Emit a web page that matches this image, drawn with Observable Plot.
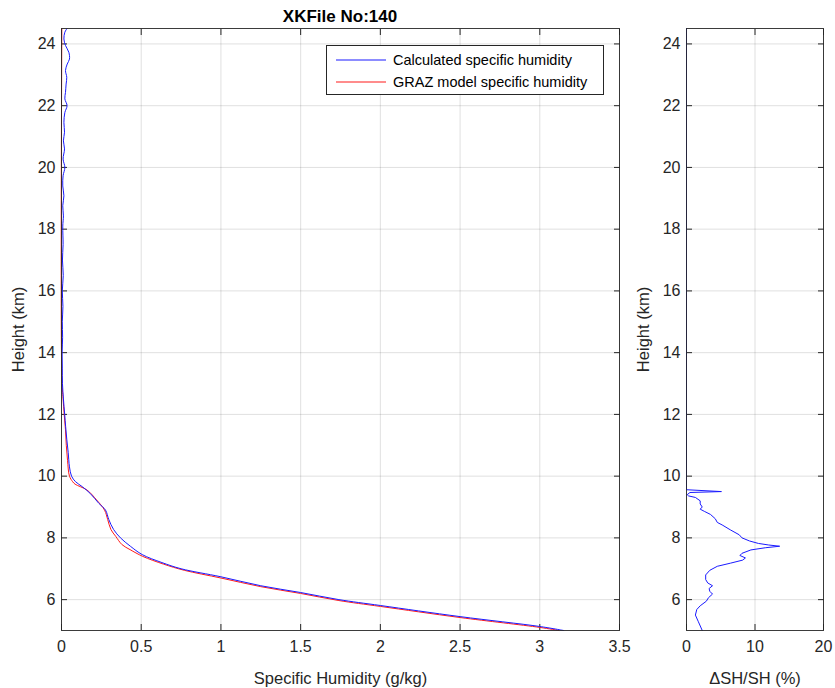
<!DOCTYPE html>
<html><head><meta charset="utf-8">
<script src="https://cdn.jsdelivr.net/npm/d3@7"></script>
<script src="https://cdn.jsdelivr.net/npm/@observablehq/plot@0.6"></script>
<style>
body{margin:0;background:#fff;font-family:"Liberation Sans",Arial,Helvetica,sans-serif;}
#wrap{position:relative;width:835px;height:688px;overflow:hidden;}
#left{position:absolute;left:0;top:0;}
#right{position:absolute;left:630px;top:0;}
#title{position:absolute;left:61px;width:558px;top:8px;text-align:center;font-weight:bold;font-size:17px;line-height:17px;color:#000;}
#legend{position:absolute;left:326px;top:45px;width:276px;height:48px;background:#fff;border:1px solid #262626;font-size:14.5px;color:#000;}
.row{position:absolute;left:0;height:20px;width:100%;}
.sw{position:absolute;left:9px;top:0px;}
.lt{position:absolute;left:66px;top:1px;line-height:18px;white-space:nowrap;}
#wrap svg g[aria-label$="tick label"]{font-size:16px;}
#wrap svg g[aria-label$="axis label"]{font-size:16.5px;}
</style>
</head><body>
<div id="wrap">
  <div id="left"></div>
  <div id="right"></div>
  <div id="title"></div>
  <div id="legend"></div>
</div>
<script>
// ---- data ----
const titleText = "XKFile No:140";
const seriesNames = ["Calculated specific humidity", "GRAZ model specific humidity"];
const seriesColors = ["#1a1aff", "#ff1a1a"];

const calcHeight = [24.5,24.38,24.16,23.95,23.73,23.51,23.35,23.14,22.92,22.7,22.43,22.22,22.0,21.78,21.46,21.14,20.86,20.6,20.27,20.0,19.73,19.4,19.08,18.76,18.43,18.1,17.5,17.0,16.5,16.0,15.5,15.0,14.5,14.0,13.5,13.0,12.5,12.0,11.6,11.2,10.77,10.3,10.0,9.82,9.66,9.44,9.12,8.9,8.59,8.27,8.0,7.73,7.46,7.2,7.0,6.74,6.45,6.23,6.0,5.81,5.45,5.13,5.0];
const calcSH = [0.035,0.021,0.015,0.025,0.046,0.05,0.036,0.025,0.033,0.029,0.025,0.021,0.035,0.021,0.015,0.019,0.012,0.019,0.01,0.021,0.01,0.008,0.015,0.008,0.012,0.008,0.01,0.006,0.011,0.005,0.009,0.005,0.007,0.004,0.005,0.006,0.012,0.02,0.026,0.033,0.042,0.05,0.063,0.088,0.13,0.18,0.234,0.276,0.297,0.327,0.37,0.432,0.506,0.63,0.75,1.0,1.25,1.5,1.74,2.0,2.5,3.0,3.15];

const grazHeight = [24.5,13.2,12.5,12.0,11.5,11.0,10.5,10.0,9.82,9.74,9.55,9.23,8.9,8.59,8.27,8.05,7.78,7.62,7.4,7.15,6.95,6.7,6.42,6.2,5.97,5.78,5.42,5.1,5.0];
const grazSH = [0.002,0.002,0.01,0.017,0.025,0.03,0.038,0.05,0.07,0.085,0.16,0.22,0.27,0.29,0.31,0.34,0.38,0.43,0.51,0.64,0.77,1.0,1.25,1.5,1.74,2.0,2.5,3.0,3.12];

const deltaHeight = [24.5,9.56,9.5,9.47,9.4,9.36,9.31,9.2,9.1,9.0,8.93,8.86,8.76,8.62,8.5,8.42,8.26,8.1,8.0,7.9,7.82,7.77,7.73,7.68,7.61,7.5,7.43,7.35,7.28,7.18,7.08,6.95,6.8,6.65,6.54,6.45,6.36,6.27,6.18,6.06,5.95,5.8,5.68,5.5,5.3,5.0];
const deltaPct = [0,0,5.1,0.5,0.1,0.3,1.3,2.0,2.0,2.3,2.0,2.6,3.5,4.2,4.5,5.2,6.4,7.7,8.1,9.2,10.5,12.0,13.6,11.5,9.4,8.1,7.8,8.6,8.2,6.4,4.5,3.4,2.8,2.8,3.1,3.8,3.3,3.4,3.8,3.2,2.9,2.0,1.5,1.3,1.7,2.3];

const xTicksLeft = [0,0.5,1,1.5,2,2.5,3,3.5];
const xTicksRight = [0,10,20];
const yTicks = [6,8,10,12,14,16,18,20,22,24];
const xLabelLeft = "Specific Humidity (g/kg)";
const xLabelRight = "\u0394SH/SH (%)";
const yLabel = "Height (km)";

// ---- build tables ----
const calc = calcHeight.map((h,i) => ({h, v: calcSH[i]}));
const graz = grazHeight.map((h,i) => ({h, v: grazSH[i]}));
const delta = deltaHeight.map((h,i) => ({h, v: deltaPct[i]}));

const axisColor = "#262626";
const style = {fontFamily: '"Liberation Sans", Arial, Helvetica, sans-serif', fontSize: "15px", color: axisColor, background: "transparent", overflow: "visible"};
const gridOpts = {stroke: axisColor, strokeOpacity: 0.14};
const fmt = d => String(d);

function panel({width, marginLeft, marginRight, xDomain, xTicks, xLabel, lines}) {
  return Plot.plot({
    width, height: 688,
    marginLeft, marginRight, marginTop: 28, marginBottom: 58,
    style,
    x: {domain: xDomain},
    y: {domain: [5, 24.5]},
    marks: [
      Plot.gridX(xTicks, gridOpts),
      Plot.gridY(yTicks, gridOpts),
      Plot.axisX(xTicks, {anchor: "bottom", tickSize: -6, tickPadding: 16, tickFormat: fmt, label: xLabel, labelAnchor: "center", labelArrow: "none", labelOffset: 53}),
      Plot.axisX(xTicks, {anchor: "top", tickSize: -6, tickFormat: () => "", label: null}),
      Plot.axisY(yTicks, {anchor: "left", tickSize: -6, tickPadding: 12, tickFormat: fmt, label: yLabel, labelAnchor: "center", labelArrow: "none", labelOffset: 49}),
      Plot.axisY(yTicks, {anchor: "right", tickSize: -6, tickFormat: () => "", label: null}),
      ...lines,
      Plot.frame({stroke: axisColor, strokeOpacity: 0.9})
    ]
  });
}

const left = panel({
  width: 630, marginLeft: 61, marginRight: 11,
  xDomain: [0, 3.5], xTicks: xTicksLeft, xLabel: xLabelLeft,
  lines: [
    Plot.line(graz, {x: "v", y: "h", stroke: seriesColors[1], strokeWidth: 1, curve: "catmull-rom"}),
    Plot.line(calc, {x: "v", y: "h", stroke: seriesColors[0], strokeWidth: 1, curve: "catmull-rom"})
  ]
});
const right = panel({
  width: 205, marginLeft: 56, marginRight: 12,
  xDomain: [0, 20], xTicks: xTicksRight, xLabel: xLabelRight,
  lines: [
    Plot.line(delta, {x: "v", y: "h", stroke: seriesColors[0], strokeWidth: 1})
  ]
});
document.getElementById("left").appendChild(left);
document.getElementById("right").appendChild(right);
document.getElementById("title").textContent = titleText;

// legend
const lg = document.getElementById("legend");
const NS = "http://www.w3.org/2000/svg";
seriesNames.forEach((name, i) => {
  const row = document.createElement("div");
  row.className = "row";
  row.style.top = (4 + i * 22) + "px";
  const sw = document.createElementNS(NS, "svg");
  sw.setAttribute("class", "sw");
  sw.setAttribute("width", "52");
  sw.setAttribute("height", "20");
  sw.style.position = "absolute";
  sw.style.left = "9px";
  sw.style.top = "0px";
  const ln = document.createElementNS(NS, "line");
  ln.setAttribute("x1", "0"); ln.setAttribute("x2", "50");
  ln.setAttribute("y1", "10"); ln.setAttribute("y2", "10");
  ln.setAttribute("stroke", seriesColors[i]);
  ln.setAttribute("stroke-width", "1.2");
  sw.appendChild(ln);
  const t = document.createElement("div");
  t.className = "lt";
  t.textContent = name;
  row.appendChild(sw); row.appendChild(t);
  lg.appendChild(row);
});
</script>
</body></html>
